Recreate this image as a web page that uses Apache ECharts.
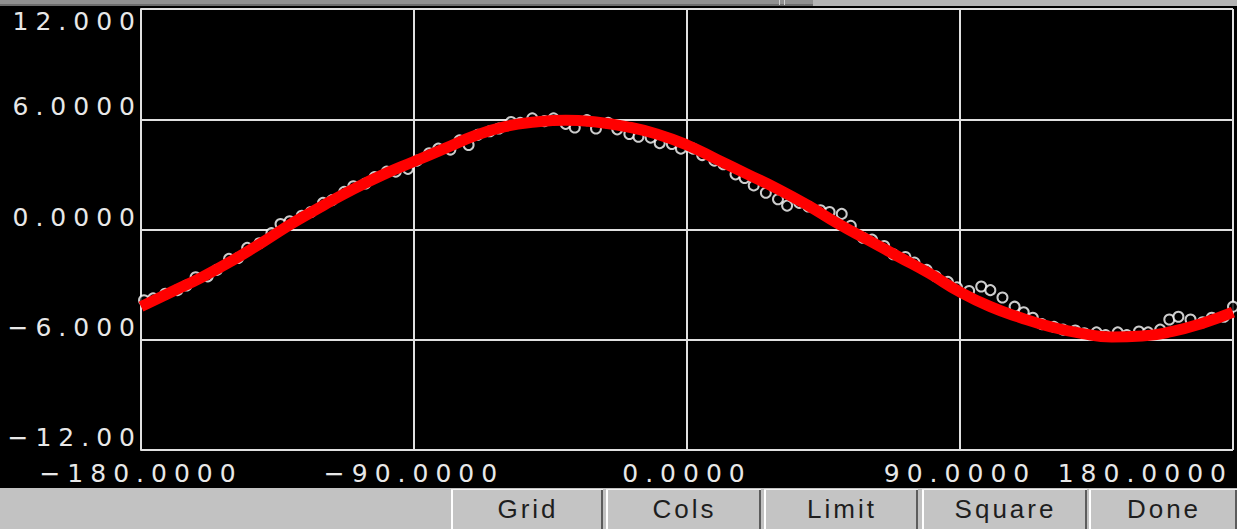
<!DOCTYPE html>
<html>
<head>
<meta charset="utf-8">
<script src="https://cdn.jsdelivr.net/npm/echarts@6/dist/echarts.min.js"></script>
<style>
  html, body { margin: 0; padding: 0; background: #000; }
  #chart { width: 1237px; height: 529px; }
  /* old X11 bitmap fonts are wide: spread the glyphs out */
  #chart text { letter-spacing: 7px; }
  #chart text[style*="Liberation"] { letter-spacing: 3px; }
</style>
</head>
<body>
<div id="chart"></div>
<script>
// fitted curve (red)
const curveX = [-180, -170, -160, -150, -140, -130, -120, -110, -100, -90, -80, -70, -60, -50, -40, -30, -20, -10,
  0, 10, 20, 30, 40, 50, 60, 70, 80, 90, 100, 110, 120, 130, 140, 150, 160, 170, 180];
const curveY = [-4.2, -3.4, -2.6, -1.7, -0.7, 0.35, 1.3, 2.2, 3.0, 3.7, 4.4, 5.1, 5.6, 5.85, 5.95, 5.85, 5.6, 5.2,
  4.6, 3.8, 3.0, 2.2, 1.3, 0.3, -0.6, -1.5, -2.4, -3.4, -4.2, -4.8, -5.3, -5.65, -5.85, -5.8, -5.55, -5.1, -4.5];

// measured samples (open circles)
const pointX = [-179, -176, -172, -168, -165, -162, -158, -155, -151, -148, -145, -141, -137, -134, -131, -127,
  -124, -120, -117, -113, -110, -106, -103, -99, -96, -92, -89, -85, -82, -78, -75, -72, -69, -65, -62, -58,
  -55, -51, -47, -44, -40, -37, -33, -30, -26, -23, -19, -16, -12, -9, -5, -2, 2, 5, 9, 12, 16, 19, 22, 26,
  30, 33, 37, 40, 44, 47, 51, 54, 58, 61, 65, 68, 72, 75, 79, 82, 86, 89, 93, 97, 100, 104, 108, 111, 114,
  117, 121, 124, 128, 131, 135, 138, 142, 145, 149, 152, 156, 159, 162, 166, 170, 173, 177, 180];
const pointY = [-3.85, -3.75, -3.5, -3.3, -3.05, -2.6, -2.55, -2.2, -1.6, -1.55, -1.0, -0.75, -0.2, 0.3, 0.45, 0.75,
  0.95, 1.45, 1.6, 2.05, 2.35, 2.5, 2.85, 3.15, 3.15, 3.3, 3.75, 4.15, 4.4, 4.35, 4.85, 4.6, 5.15, 5.35, 5.5, 5.85,
  5.8, 6.05, 5.9, 6.05, 5.75, 5.55, 5.95, 5.5, 5.8, 5.45, 5.2, 5.05, 5.0, 4.7, 4.65, 4.4, 4.4, 4.05, 3.75, 3.55, 3.0, 2.8, 2.4, 2.0,
  1.65, 1.3, 1.45, 1.25, 1.05, 0.95, 0.85, 0.2, -0.45, -0.55, -0.9, -1.35, -1.5, -1.8, -2.2, -2.55, -2.85, -3.15, -3.35, -3.1, -3.3, -3.7, -4.2, -4.5, -4.8,
  -5.15, -5.3, -5.45, -5.5, -5.65, -5.6, -5.75, -5.6, -5.75, -5.55, -5.6, -5.45, -4.9, -4.75, -4.9, -5.05, -4.8, -4.75, -4.2];

const xTicks = [-180, -90, 0, 90, 180];
const xTickLabels = ['\u2212180.0000', '\u221290.0000', '0.0000', '90.0000', '180.0000'];
const yTicks = [-12, -6, 0, 6, 12];
const yTickLabels = ['\u221212.00', '\u22126.000', '0.0000', '6.0000', '12.000'];

const buttonLabels = ['Grid', 'Cols', 'Limit', 'Square', 'Done'];
const buttonEdges = [[451, 603], [606, 761], [764, 918], [922, 1087], [1089, 1237]];

const gridColor = '#e0e0e0';
const labelColor = '#e8e8e8';

function tickLabel(ticks, labels) {
  return function(v) {
    let i = ticks.indexOf(Math.round(v));
    return i < 0 ? '' : labels[i];
  };
}

// a raised Motif-ish push button, flat list so every piece keeps its own z
function button(label, edges) {
  let x0 = edges[0], w = edges[1] - edges[0];
  return [
    { type: 'rect', z: 101, shape: { x: x0, y: 489, width: w, height: 40 }, style: { fill: '#c4c4c4' } },
    { type: 'rect', z: 102, shape: { x: x0, y: 489, width: 2, height: 40 }, style: { fill: '#ffffff' } },
    { type: 'rect', z: 102, shape: { x: x0, y: 489, width: w, height: 1 }, style: { fill: '#f2f2f2' } },
    { type: 'rect', z: 102, shape: { x: x0 + w - 2, y: 490, width: 2, height: 39 }, style: { fill: '#5c5c5c' } },
    {
      type: 'text',
      z: 103,
      x: x0 + w / 2 + 1,
      y: 509,
      style: {
        text: label,
        fill: '#1e1e1e',
        font: '26px "Liberation Sans"',
        textAlign: 'center',
        textVerticalAlign: 'middle',
      },
    },
  ];
}

let chrome = [
  // window strip along the top
  { type: 'rect', z: 100, shape: { x: 0, y: 0, width: 813, height: 4 }, style: { fill: '#909090' } },
  { type: 'rect', z: 100, shape: { x: 0, y: 4, width: 813, height: 2 }, style: { fill: '#6c6c6c' } },
  { type: 'rect', z: 100, shape: { x: 813, y: 0, width: 424, height: 6 }, style: { fill: '#b4b4b4' } },
  { type: 'rect', z: 101, shape: { x: 779, y: 0, width: 1, height: 5 }, style: { fill: '#d0d0d0' } },
  { type: 'rect', z: 101, shape: { x: 784, y: 0, width: 1, height: 5 }, style: { fill: '#d0d0d0' } },
  // button panel along the bottom
  { type: 'rect', z: 100, shape: { x: 0, y: 488, width: 1237, height: 41 }, style: { fill: '#c2c2c2' } },
];
for(let i = 0; i < buttonLabels.length; i++) {
  chrome = chrome.concat(button(buttonLabels[i], buttonEdges[i]));
}

const chart = echarts.init(document.getElementById('chart'), null, { renderer: 'svg' });

chart.setOption({
  animation: false,
  backgroundColor: '#000000',
  grid: {
    left: 141,
    right: 4,
    top: 9,
    bottom: 79,
    outerBoundsMode: 'none',
  },
  xAxis: {
    type: 'value',
    min: -180,
    max: 180,
    interval: 90,
    axisLine: { show: true, lineStyle: { color: gridColor, width: 2 } },
    axisTick: { show: true, length: 5, lineStyle: { color: gridColor, width: 2 } },
    splitLine: { show: true, lineStyle: { color: gridColor, width: 2 } },
    axisLabel: {
      color: labelColor,
      fontFamily: 'DejaVu Sans',
      fontSize: 25,
      margin: 11,
      alignMaxLabel: 'right',
      formatter: tickLabel(xTicks, xTickLabels),
    },
  },
  yAxis: {
    type: 'value',
    min: -12,
    max: 12,
    interval: 6,
    axisLine: { show: true, onZero: false, lineStyle: { color: gridColor, width: 2 } },
    axisTick: { show: false },
    splitLine: { show: true, lineStyle: { color: gridColor, width: 2 } },
    axisLabel: {
      color: labelColor,
      fontFamily: 'DejaVu Sans',
      fontSize: 25,
      margin: -1,
      verticalAlign: 'bottom',
      verticalAlignMaxLabel: 'top',
      formatter: tickLabel(yTicks, yTickLabels),
    },
  },
  series: [
    {
      name: 'samples',
      type: 'scatter',
      data: pointX.map((x, i) => [x, pointY[i]]),
      symbol: 'circle',
      symbolSize: 10,
      itemStyle: { color: '#000000', borderColor: '#ffffff', borderWidth: 2 },
      z: 2,
    },
    {
      name: 'fit',
      type: 'line',
      data: curveX.map((x, i) => [x, curveY[i]]),
      smooth: true,
      showSymbol: false,
      lineStyle: { color: '#ff0000', width: 11 },
      z: 3,
    },
  ],
  graphic: chrome,
});
</script>
</body>
</html>
